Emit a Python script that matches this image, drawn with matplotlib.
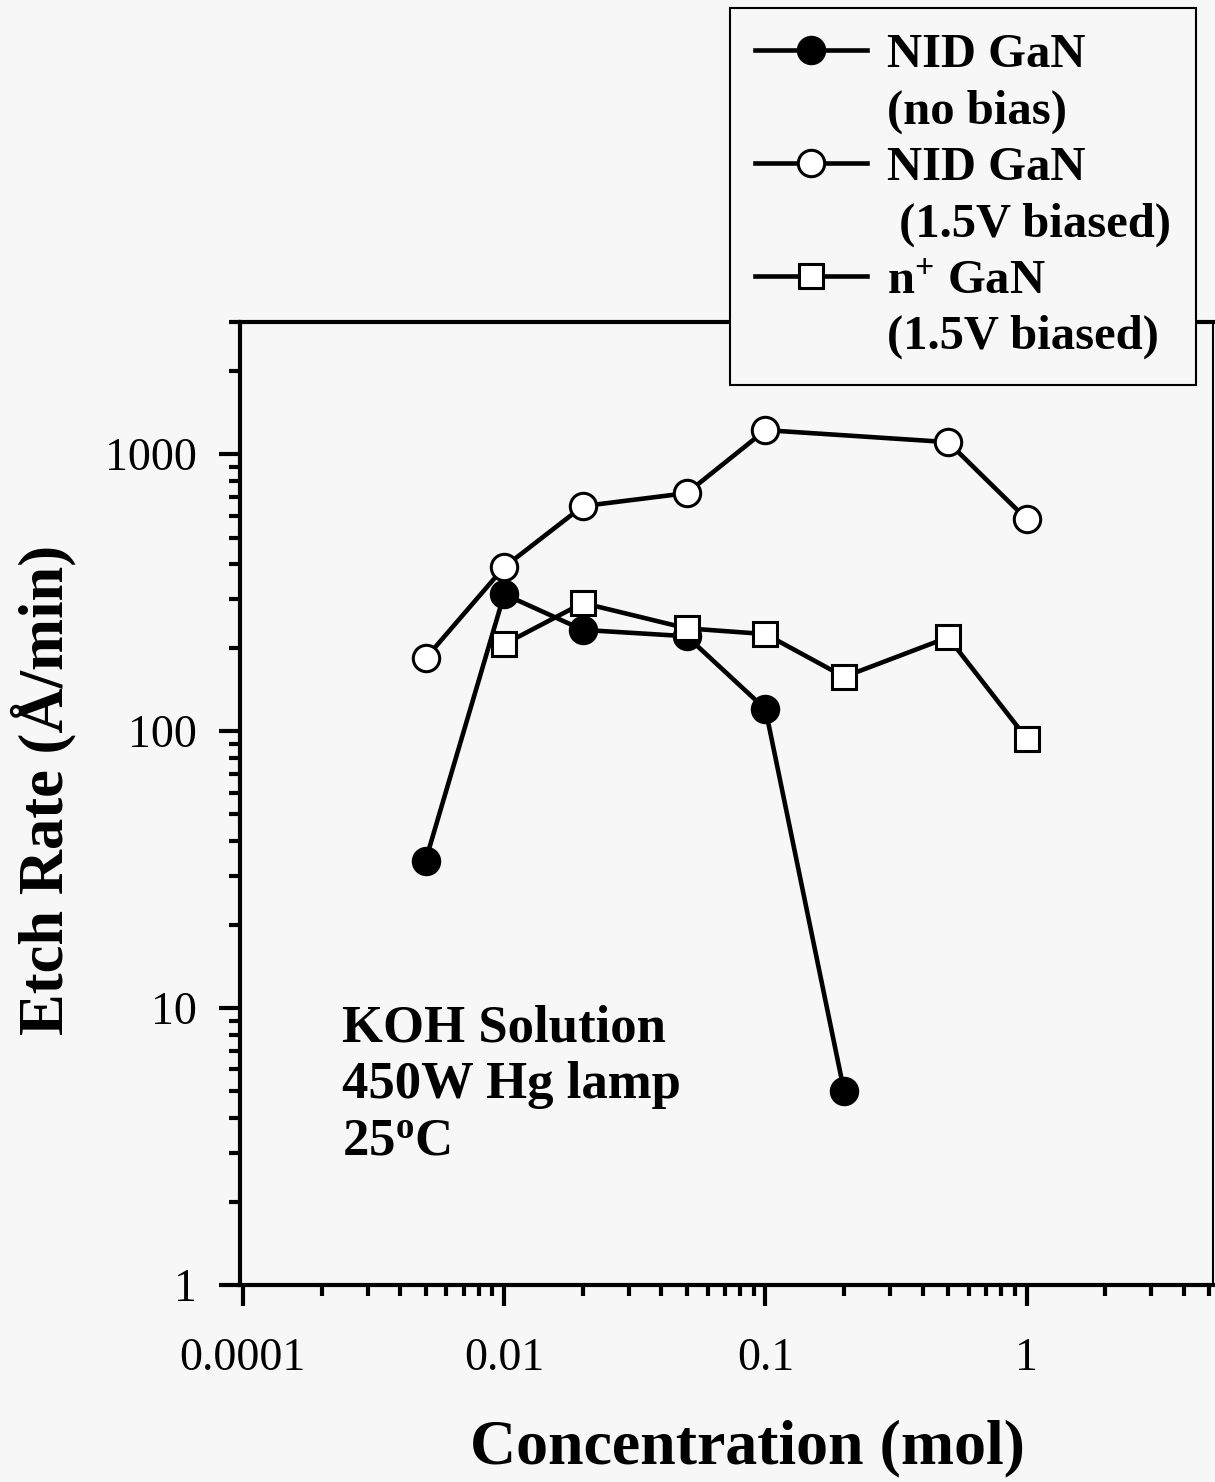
import numpy as np
import matplotlib
matplotlib.use("Agg")
import matplotlib.pyplot as plt
from matplotlib import ticker
from matplotlib.lines import Line2D

plt.rcParams['font.family'] = ['Liberation Serif', 'DejaVu Serif']
plt.rcParams['mathtext.fontset'] = 'custom'
plt.rcParams['mathtext.rm'] = 'Liberation Serif:bold'
plt.rcParams['mathtext.bf'] = 'Liberation Serif:bold'
plt.rcParams['mathtext.it'] = 'Liberation Serif:bold'

# data
conc_nobias = [0.005, 0.01, 0.02, 0.05, 0.1, 0.2]
rate_nobias = [34, 312, 232, 220, 120, 5]

conc_bias = [0.005, 0.01, 0.02, 0.05, 0.1, 0.5, 1.0]
rate_bias = [183, 391, 649, 723, 1221, 1105, 582]

conc_nplus = [0.01, 0.02, 0.05, 0.1, 0.2, 0.5, 1.0]
rate_nplus = [206, 290, 235, 224, 157, 218, 94]

xticks = [0.001, 0.01, 0.1, 1]
xticklabels = ["0.0001", "0.01", "0.1", "1"]
yticks = [1, 10, 100, 1000]
yticklabels = ["1", "10", "100", "1000"]

bg = '#f7f7f7'
W, H = 1215, 1482
fig = plt.figure(figsize=(W / 100, H / 100), dpi=100, facecolor=bg)
ax = fig.add_axes([240 / W, 1 - 1285 / H, (1213 - 240) / W, (1285 - 322) / H])
ax.set_facecolor(bg)

lw = 3.3
ms_c = 19
ms_s = 17
ax.plot(conc_bias, rate_bias, color='k', lw=lw, marker='o', ms=ms_c,
        mfc='white', mec='k', mew=2.2, zorder=3)
ax.plot(conc_nobias, rate_nobias, color='k', lw=lw, marker='o', ms=ms_c,
        mfc='k', mec='k', mew=2.2, zorder=4)
ax.plot(conc_nplus, rate_nplus, color='k', lw=lw, marker='s', ms=ms_s,
        mfc='white', mec='k', mew=2.2, zorder=5)

ax.set_xscale('log')
ax.set_yscale('log')
ax.set_xlim(0.000975, 5.16)
ax.set_ylim(1, 3000)

ax.xaxis.set_major_locator(ticker.FixedLocator(xticks))
ax.xaxis.set_major_formatter(ticker.FixedFormatter(xticklabels))
ax.xaxis.set_minor_locator(ticker.LogLocator(base=10, subs=np.arange(2, 10)))
ax.xaxis.set_minor_formatter(ticker.NullFormatter())
ax.yaxis.set_major_locator(ticker.FixedLocator(yticks))
ax.yaxis.set_major_formatter(ticker.FixedFormatter(yticklabels))
ax.yaxis.set_minor_locator(ticker.LogLocator(base=10, subs=np.arange(2, 10)))
ax.yaxis.set_minor_formatter(ticker.NullFormatter())

ax.tick_params(which='major', direction='out', length=15, width=3, labelsize=33, color='k')
ax.tick_params(axis='x', which='major', pad=23)
ax.tick_params(axis='y', which='major', pad=16)
ax.tick_params(which='minor', direction='out', length=8, width=3)

for side in ['left', 'bottom', 'top']:
    ax.spines[side].set_linewidth(3)
ax.spines['right'].set_linewidth(1.5)

ax.set_xlabel("Concentration (mol)", fontsize=46, fontweight='bold')
ax.xaxis.set_label_coords(0.522, -0.14)
ax.set_ylabel("Etch Rate (Å/min)", fontsize=45, fontweight='bold')
ax.yaxis.set_label_coords(-0.168, 0.514)

ax.text(0.105, 0.291, "KOH Solution\n450W Hg lamp\n25$^{\\mathrm{o}}$C",
        transform=ax.transAxes, fontsize=38, fontweight='bold',
        va='top', ha='left', linespacing=1.22)

h_nobias = Line2D([], [], color='k', lw=lw, marker='o', ms=ms_c, mfc='k', mec='k', mew=2.2)
h_bias = Line2D([], [], color='k', lw=lw, marker='o', ms=ms_c, mfc='white', mec='k', mew=2.2)
h_nplus = Line2D([], [], color='k', lw=lw, marker='s', ms=ms_s, mfc='white', mec='k', mew=2.2)
h_blank = Line2D([], [], color='none', lw=0)

handles = [h_nobias, h_blank, h_bias, h_blank, h_nplus, h_blank]
labels = ["NID GaN", "(no bias)", "NID GaN", " (1.5V biased)",
          "n$^{+}$ GaN", "(1.5V biased)"]
leg = ax.legend(handles, labels, loc='upper left',
                bbox_to_anchor=(730 / W, 1 - 8 / H), bbox_transform=fig.transFigure,
                borderaxespad=0, frameon=True, fancybox=False, framealpha=1,
                facecolor=bg, edgecolor='k', numpoints=1,
                prop={'family': 'Liberation Serif', 'weight': 'bold', 'size': 35},
                handlelength=2.3, handletextpad=0.4, labelspacing=0.25,
                borderpad=0.52)
leg.get_frame().set_linewidth(1.5)
leg.set_zorder(10)

fig.savefig("out.png", dpi=100, facecolor=bg)
